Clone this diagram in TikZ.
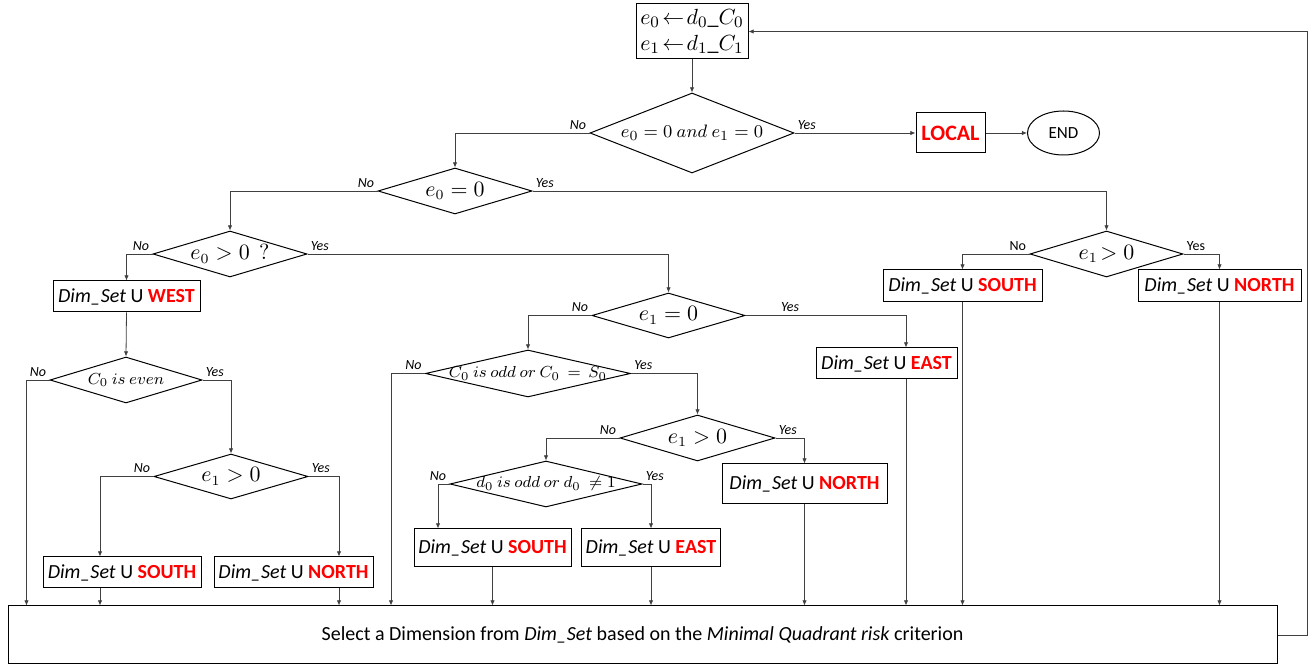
\documentclass[tikz,border=0pt]{standalone}
\usepackage{fontspec}
\setmainfont{Carlito}
\usetikzlibrary{calc,arrows.meta,shapes}

\newcommand{\dimu}[1]{\textit{Dim\_Set}~U~\textcolor{red}{\textbf{#1}}}

\begin{document}
\begin{tikzpicture}[x=0.5pt,y=-0.5pt,
	box/.style={draw,line width=0.5pt,inner sep=2pt,font=\fontsize{10}{12}\selectfont},
	dec/.style={draw,diamond,line width=0.5pt,inner sep=0pt},
	dtext/.style={label={[font=\fontsize{10.5}{12}\selectfont]center:#1}},
	dsmall/.style={label={[font=\fontsize{8}{10}\selectfont]center:#1}},
	arr/.style={draw=black!75,line width=0.4pt,-{Latex[length=2.6pt,width=2.2pt]}},
	lab/.style={font=\fontsize{7}{8}\selectfont\itshape,inner sep=1.5pt},
	labr/.style={lab,font=\fontsize{7}{8}\selectfont}]
	\useasboundingbox (0,0) rectangle (1314,667);

	% start and first test
	\node[box,minimum width=56pt,minimum height=27.5pt,align=center,font=\fontsize{11}{13}\selectfont] (start) at (692,31.5)
	{$e_0\!\leftarrow\! d_0\_C_0$\\$e_1\!\leftarrow\! d_1\_C_1$};
	\node[dec,minimum width=102pt,minimum height=40pt,label={[font=\fontsize{9.5}{12}\selectfont]center:{$e_0 = 0\ and\ e_1 = 0$}}] (both) at (692,133) {};
	\node[box,minimum width=34.5pt,minimum height=20pt,font=\fontsize{11}{12}\selectfont\bfseries,text=red] (local) at (950.5,133) {LOCAL};
	\node[draw,ellipse,line width=0.5pt,minimum width=36pt,minimum height=22pt,font=\fontsize{8.5}{10}\selectfont] (end) at (1063.5,133) {END};

	% second level
	\node[dec,minimum width=77pt,minimum height=23pt,dtext={$e_0 = 0$}] (ezero) at (455,191) {};
	\node[dec,minimum width=77pt,minimum height=23pt,dtext={$e_0 > 0\ \ ?$}] (epos) at (230,254) {};
	\node[dec,minimum width=76.5pt,minimum height=23pt,dtext={$e_1\!> 0$}] (eright) at (1106.5,254) {};
	\node[box,minimum width=79.5pt,minimum height=16pt] (southr) at (962.5,286) {\dimu{SOUTH}};
	\node[box,minimum width=81.5pt,minimum height=16pt] (northr) at (1219.5,286) {\dimu{NORTH}};

	% left branch
	\node[box,minimum width=73.5pt,minimum height=15.5pt] (west) at (126.5,296.5) {\dimu{WEST}};
	\node[dec,minimum width=76pt,minimum height=23pt,dsmall={$C_0\ is\ even$}] (even) at (126,380) {};
	\node[dec,minimum width=77pt,minimum height=22.5pt,dtext={$e_1 > 0$}] (eleft) at (231,476.5) {};
	\node[box,minimum width=79pt,minimum height=15.5pt] (southl) at (122,572.5) {\dimu{SOUTH}};
	\node[box,minimum width=79.5pt,minimum height=15.5pt] (northl) at (293.5,572.5) {\dimu{NORTH}};

	% middle branch
	\node[dec,minimum width=76.5pt,minimum height=22.5pt,dtext={$e_1 = 0$}] (eone) at (668.5,315.5) {};
	\node[box,minimum width=70.5pt,minimum height=15.5pt] (eastr) at (886.5,363.5) {\dimu{EAST}};
	\node[dec,minimum width=102.5pt,minimum height=23.5pt,dsmall={$C_0\ is\ odd\ or\ C_0\, =\, S_0$}] (odd) at (528,373.5) {};
	\node[dec,minimum width=77.5pt,minimum height=23pt,dtext={$e_1 > 0$}] (emid) at (697.5,438) {};
	\node[box,minimum width=82.5pt,minimum height=20pt] (northm) at (804.5,484) {\dimu{NORTH}};
	\node[dec,minimum width=96pt,minimum height=23pt,dsmall={$d_0\ is\ odd\ or\ d_0\ \neq 1$}] (dodd) at (546,484) {};
	\node[box,minimum width=78.5pt,minimum height=19pt] (southm) at (492.5,548) {\dimu{SOUTH}};
	\node[box,minimum width=69pt,minimum height=19pt] (eastm) at (651,548) {\dimu{EAST}};

	% final choice
	\node[box,minimum width=634.5pt,minimum height=29pt,font=\fontsize{10}{12}\selectfont] (select) at (642.5,635)
	{Select a Dimension from \textit{Dim\_Set} based on the \textit{Minimal Quadrant risk} criterion};

	% turning points
	\coordinate (er_in) at ($(eastr.north)+(19.5,0)$);
	\coordinate (sm_in) at ($(southm.north)+(-54.5,0)$);
	\coordinate (sl_in) at ($(southl.north)+(-22,0)$);
	\coordinate (nl_in) at ($(northl.north)+(45.5,0)$);
	\coordinate (c_even) at ($(even.west)+(-23,0)$);
	\coordinate (c_odd) at ($(odd.west)+(-34,0)$);

	\draw[arr] (start.south) -- (both.north);
	\draw[arr] (both.west) -| node[lab,pos=0,anchor=south east]{No} (ezero.north);
	\draw[arr] (both.east) -- node[lab,pos=0,anchor=south west]{Yes} (local.west);
	\draw[arr] (local.east) -- (end.west);
	\draw[arr] (ezero.west) -| node[lab,pos=0,anchor=south east]{No} (epos.north);
	\draw[arr] (ezero.east) -| node[lab,pos=0,anchor=south west]{Yes} (eright.north);
	\draw[arr] (eright.west) -| node[labr,pos=0,anchor=south east]{No} (southr.north);
	\draw[arr] (eright.east) -| node[labr,pos=0,anchor=south west]{Yes} (northr.north);
	\draw[arr] (epos.west) -| node[lab,pos=0,anchor=south east]{No} (west.north);
	\draw[arr] (epos.east) -| node[lab,pos=0,anchor=south west]{Yes} (eone.north);
	\draw[arr] (west.south) -- (even.north);
	\draw[arr] (even.west) -- node[lab,pos=0,anchor=south east]{No} (c_even) -- (c_even |- select.north);
	\draw[arr] (even.east) -| node[lab,pos=0,anchor=south west]{Yes} (eleft.north);
	\draw[arr] (eleft.west) -| node[lab,pos=0,anchor=south east]{No} (sl_in);
	\draw[arr] (eleft.east) -| node[lab,pos=0,anchor=south west]{Yes} (nl_in);
	\draw[arr] (eone.west) -| node[lab,pos=0,anchor=south east]{No} (odd.north);
	\draw[arr] (eone.east) -| node[lab,pos=0.1,anchor=south west]{Yes} (er_in);
	\draw[arr] (odd.west) -- node[lab,pos=0,anchor=south east]{No} (c_odd) -- (c_odd |- select.north);
	\draw[arr] (odd.east) -| node[lab,pos=0,anchor=south west]{Yes} (emid.north);
	\draw[arr] (emid.west) -| node[lab,pos=0,anchor=south east]{No} (dodd.north);
	\draw[arr] (emid.east) -| node[lab,pos=0,anchor=south west]{Yes} (northm.north);
	\draw[arr] (dodd.west) -| node[lab,pos=0,anchor=south east]{No} (sm_in);
	\draw[arr] (dodd.east) -| node[lab,pos=0,anchor=south west]{Yes} (eastm.north);

	% into the final box
	\draw[arr] (southl.south -| sl_in) -- (sl_in |- select.north);
	\draw[arr] (northl.south -| nl_in) -- (nl_in |- select.north);
	\draw[arr] (southm.south) -- (southm.south |- select.north);
	\draw[arr] (eastm.south) -- (eastm.south |- select.north);
	\draw[arr] (northm.south) -- (northm.south |- select.north);
	\draw[arr] (eastr.south -| er_in) -- (er_in |- select.north);
	\draw[arr] (southr.south) -- (southr.south |- select.north);
	\draw[arr] (northr.south) -- (northr.south |- select.north);
	\draw[arr] (select.east) -- ++(30,0) |- (start.east);
\end{tikzpicture}
\end{document}
